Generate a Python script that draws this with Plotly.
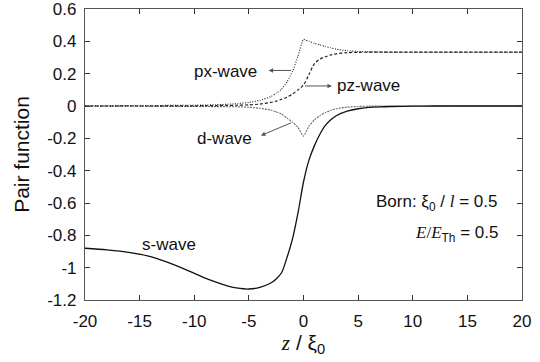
import plotly.graph_objects as go

# Position along the interface, in units of the coherence length
z = [-20, -18, -16, -14, -12, -10, -9, -8, -7, -6, -5, -4, -3, -2.5, -2, -1.5,
     -1, -0.5, 0, 0.5, 1, 1.5, 2, 2.5, 3, 4, 5, 6, 7, 8, 10, 12, 14, 16, 18, 20]

s_wave = [-0.880, -0.890, -0.905, -0.932, -0.978, -1.035, -1.065, -1.090, -1.112,
          -1.127, -1.132, -1.122, -1.095, -1.070, -1.030, -0.935, -0.820, -0.660,
          -0.470, -0.335, -0.245, -0.175, -0.120, -0.085, -0.060, -0.032, -0.017,
          -0.009, -0.005, -0.003, -0.001, 0, 0, 0, 0, 0]

px_wave = [0.002, 0.002, 0.003, 0.003, 0.004, 0.005, 0.006, 0.008, 0.011, 0.015,
           0.022, 0.035, 0.058, 0.078, 0.105, 0.150, 0.215, 0.310, 0.412, 0.400,
           0.388, 0.378, 0.368, 0.360, 0.352, 0.342, 0.337, 0.335, 0.334, 0.333,
           0.333, 0.333, 0.333, 0.333, 0.333, 0.333]

pz_wave = [0, 0, 0, 0, 0.001, 0.001, 0.002, 0.003, 0.004, 0.005, 0.007, 0.012,
           0.022, 0.030, 0.042, 0.055, 0.075, 0.100, 0.130, 0.195, 0.262, 0.290,
           0.305, 0.316, 0.323, 0.330, 0.332, 0.333, 0.333, 0.333, 0.333, 0.333,
           0.333, 0.333, 0.333, 0.333]

d_wave = [-0.001, -0.001, -0.001, -0.002, -0.002, -0.003, -0.003, -0.004, -0.004,
          -0.005, -0.008, -0.014, -0.025, -0.036, -0.050, -0.075, -0.100, -0.133,
          -0.186, -0.125, -0.085, -0.060, -0.040, -0.027, -0.017, -0.007, -0.003,
          -0.001, 0, 0, 0, 0, 0, 0, 0, 0]

x_ticks = [-20, -15, -10, -5, 0, 5, 10, 15, 20]
x_tick_text = ["-20", "-15", "-10", "-5", "0", "5", "10", "15", "20"]
y_ticks = [0.6, 0.4, 0.2, 0, -0.2, -0.4, -0.6, -0.8, -1, -1.2]
y_tick_text = ["0.6", "0.4", "0.2", "0", "-0.2", "-0.4", "-0.6", "-0.8", "-1", "-1.2"]

SANS = "Liberation Sans, Arial, sans-serif"
SERIF = "Liberation Serif, Times New Roman, serif"

fig = go.Figure()
fig.add_trace(go.Scatter(x=z, y=d_wave, mode="lines", name="d-wave",
                         line=dict(color="#6a6a6a", width=1.1, dash="2px,1px",
                                   shape="spline", smoothing=0.5)))
fig.add_trace(go.Scatter(x=z, y=pz_wave, mode="lines", name="pz-wave",
                         line=dict(color="#222222", width=1.2, dash="3px,2px",
                                   shape="spline", smoothing=0.8)))
fig.add_trace(go.Scatter(x=z, y=px_wave, mode="lines", name="px-wave",
                         line=dict(color="#222222", width=1.1, dash="1px,1.5px",
                                   shape="spline", smoothing=0.5)))
fig.add_trace(go.Scatter(x=z, y=s_wave, mode="lines", name="s-wave",
                         line=dict(color="#111111", width=1.3,
                                   shape="spline", smoothing=0.8)))

label_font = dict(family=SANS, size=17, color="#111111")

# Curve labels
labels = [
    ("px-wave", -7.1, 0.216, "center"),
    ("pz-wave", 2.9, 0.124, "left"),
    ("d-wave", -7.2, -0.198, "center"),
    ("s-wave", -12.3, -0.855, "center"),
]
for text, xv, yv, anchor in labels:
    fig.add_annotation(x=xv, y=yv, text=text, showarrow=False, xanchor=anchor,
                       yanchor="middle", font=label_font)

# Arrows from each curve towards its label
arrows = [
    ((-1.0, 0.220), (-3.2, 0.220)),
    ((0.0, 0.124), (2.6, 0.124)),
    ((-1.0, -0.100), (-3.9, -0.183)),
]
for (tx, ty), (hx, hy) in arrows:
    fig.add_annotation(x=hx, y=hy, ax=tx, ay=ty, xref="x", yref="y", axref="x",
                       ayref="y", text="", showarrow=True, arrowhead=2,
                       arrowsize=0.9, arrowwidth=1, arrowcolor="#555555")

fig.add_annotation(
    x=18.0, y=-0.598, xanchor="right", yanchor="middle", showarrow=False,
    text=("Born: ξ<sub>0</sub> / <span style=\"font-family:" + SERIF +
          "\"><i>l</i></span> = 0.5"),
    font=label_font)
fig.add_annotation(
    x=18.0, y=-0.790, xanchor="right", yanchor="middle", showarrow=False,
    text=("<span style=\"font-family:" + SERIF + "\"><i>E</i>/<i>E</i></span>"
          "<sub>Th</sub> = 0.5"),
    font=label_font)

axis_common = dict(showline=True, linecolor="#555555", linewidth=1.2,
                   mirror="ticks", ticks="inside", ticklen=5, tickwidth=1,
                   tickcolor="#333333", showgrid=False, zeroline=False,
                   automargin=False, ticklabeloverflow="allow",
                   tickfont=dict(family=SANS, size=17, color="#111111"))

fig.update_xaxes(range=[-20, 20], tickvals=x_ticks, ticktext=x_tick_text,
                 ticklabelstandoff=5,
                 title=dict(text=("<span style=\"font-family:" + SERIF +
                                  "\"><i>z</i></span> / ξ<sub>0</sub>"),
                            font=dict(family=SANS, size=21, color="#111111"),
                            standoff=5),
                 **axis_common)
fig.update_yaxes(range=[-1.2, 0.6001], tickvals=y_ticks, ticktext=y_tick_text,
                 ticklabelstandoff=4,
                 title=dict(text="Pair function",
                            font=dict(family=SANS, size=21, color="#111111"),
                            standoff=11),
                 **axis_common)

fig.update_layout(width=540, height=362, showlegend=False,
                  margin=dict(l=85, r=18, t=9, b=62),
                  paper_bgcolor="white", plot_bgcolor="white")

fig.write_html("out.html")
